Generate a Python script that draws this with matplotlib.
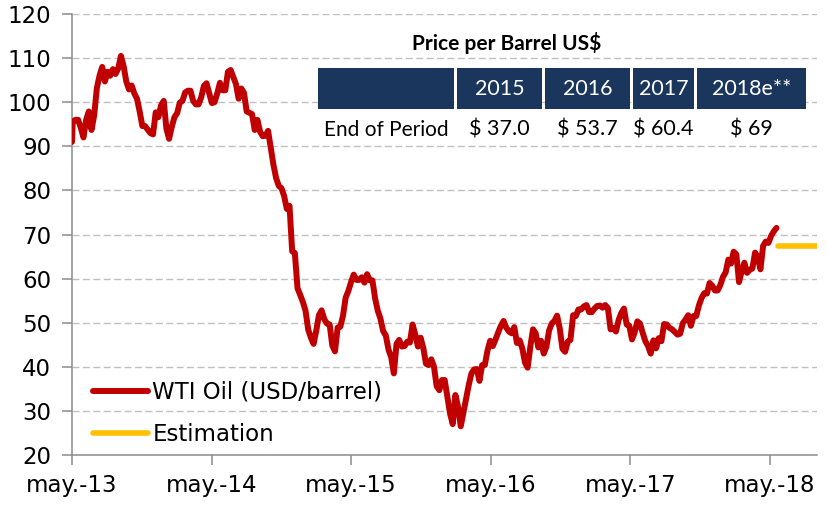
import pandas as pd
import matplotlib.pyplot as plt
import matplotlib.dates as mdates
from matplotlib.patches import Rectangle

# WTI settimanale (venerdi)
start_date = "2013-05-01"
start_value = 91.0
wti = [
    # 2013
    95.6, 96.0, 96.0, 94.2, 92.0,
    96.0, 97.9, 93.7, 97.0,
    103.2, 106.0, 108.0, 104.7,
    106.9, 106.0, 107.5, 106.4, 107.7,
    110.5, 108.2, 104.7, 102.9,
    103.8, 102.0, 100.8, 97.9,
    94.6, 94.6, 93.8, 93.0, 92.7,
    97.7, 96.6, 99.3, 100.3,
    # 2014
    94.0, 91.7, 94.4, 96.6, 97.5,
    99.9, 100.3, 102.2, 102.6,
    102.6, 100.3, 99.5, 99.5,
    101.1, 103.7, 104.3, 102.0,
    99.8, 100.0, 102.0, 104.4, 102.7,
    102.7, 106.9, 107.3, 105.7,
    104.1, 100.8, 103.1, 102.1,
    97.9, 97.6, 97.3, 93.7, 96.0,
    93.3, 92.3, 92.4, 93.5,
    89.7, 85.8, 82.8, 81.0, 80.5,
    78.7, 75.8, 76.5, 66.2,
    65.8, 57.8, 56.3, 54.7,
    # 2015
    52.7, 48.4, 46.6, 45.2, 48.2,
    51.7, 52.8, 50.8, 49.8,
    49.6, 44.8, 43.5, 48.9,
    49.1, 51.6, 55.7, 57.2,
    59.2, 60.9, 59.7, 59.7, 60.3,
    59.1, 61.0, 59.6, 59.6,
    55.5, 52.7, 50.9, 48.1, 47.1,
    43.9, 42.2, 38.5, 45.2,
    46.1, 44.6, 44.7, 45.7,
    45.5, 49.6, 47.3, 44.6, 46.6,
    44.3, 40.7, 40.4, 41.7,
    40.0, 35.6, 34.7, 37.0,
    # 2016
    37.0, 33.2, 29.4, 27.0, 33.6,
    30.9, 26.5, 29.6, 32.8,
    35.9, 38.5, 39.4, 39.5,
    36.8, 40.4, 40.4, 43.7, 45.9,
    44.7, 46.2, 47.8, 49.3,
    50.4, 48.9, 48.0, 47.6,
    49.0, 45.4, 46.0, 44.2, 41.0,
    39.8, 44.5, 48.5, 47.6,
    44.4, 45.9, 43.0, 44.5, 48.2,
    49.8, 50.4, 51.6, 48.7,
    44.1, 43.4, 45.7, 46.1,
    51.7, 51.5, 53.0, 53.0, 53.7,
    # 2017
    54.0, 52.4, 52.4, 53.2,
    53.8, 53.9, 53.4, 54.0,
    53.3, 48.5, 48.8, 48.0, 50.6,
    52.2, 53.2, 49.6, 49.3,
    46.2, 47.8, 50.3, 49.8,
    47.7, 45.8, 44.7, 43.0, 46.0,
    44.2, 46.5, 45.8, 49.7,
    49.6, 48.8, 48.5, 47.9,
    47.3, 47.5, 49.9, 50.7, 51.7,
    49.3, 51.5, 51.5, 53.9,
    55.6, 56.7, 56.6, 59.0,
    58.4, 57.3, 57.3, 58.5, 60.4,
    # 2018
    61.4, 64.3, 63.4, 66.1,
    65.5, 59.2, 61.7, 63.6,
    61.3, 62.0, 62.3, 65.9, 64.9,
    62.1, 67.4, 68.4, 68.1,
    69.7, 70.7, 71.5,
]

est_start = "2018-05-22"
est_end = "2018-09-01"
est_value = 67.5

tick_dates = ["2013-05-01", "2014-05-01", "2015-05-01", "2016-05-01", "2017-05-01", "2018-05-01"]
tick_labels = ["may.-13", "may.-14", "may.-15", "may.-16", "may.-17", "may.-18"]

# Tabella prezzi
table_title = "Price per Barrel US$"
table_years = ["2015", "2016", "2017", "2018e**"]
table_row_label = "End of Period"
table_prices = ["$ 37.0", "$ 53.7", "$ 60.4", "$ 69"]

dates = [pd.Timestamp(start_date)] + list(pd.date_range("2013-05-03", periods=len(wti), freq="W-FRI"))
values = [start_value] + wti

plt.rcParams['font.family'] = ['DejaVu Sans']
fig = plt.figure(figsize=(8.27, 5.05), dpi=100)
ax = fig.add_axes([72/827, 1 - 455/505, 745/827, 441/505])

ax.plot(dates, values, color="#c00000", lw=4.3, solid_capstyle="round",
        solid_joinstyle="round", label="WTI Oil (USD/barrel)", zorder=3)
ax.plot([pd.Timestamp(est_start), pd.Timestamp(est_end)], [est_value, est_value],
        color="#ffc000", lw=4.0, solid_capstyle="round", label="Estimation", zorder=3)

ax.set_ylim(20, 120)
ax.set_yticks(range(20, 121, 10))
ax.set_xlim(pd.Timestamp(start_date), pd.Timestamp(est_end))
ax.set_xticks([mdates.date2num(pd.Timestamp(d)) for d in tick_dates])
ax.set_xticklabels(tick_labels)

ax.yaxis.grid(True, color="#c0c0c0", lw=1.0, linestyle=(0, (5, 2.5)))
ax.set_axisbelow(True)
for s in ["top", "right"]:
    ax.spines[s].set_visible(False)
for s in ["left", "bottom"]:
    ax.spines[s].set_color("#8c8c8c")
    ax.spines[s].set_linewidth(1.1)
ax.tick_params(axis="both", direction="out", length=7, width=1.1, color="#8c8c8c",
               labelsize=16.5, labelcolor="black")
ax.tick_params(axis="y", pad=8)
ax.tick_params(axis="x", pad=7)

ax.legend(loc="lower left", bbox_to_anchor=(0.028, 0.02), frameon=False,
          fontsize=16.5, handlelength=2.4, handletextpad=0.2, labelspacing=0.85,
          borderpad=0, borderaxespad=0)

# Tabella disegnata in coordinate pixel della figura
def fx(x):
    return x / 827

def fy(y):
    return 1 - y / 505

col_edges = [(318, 454), (457, 542), (545, 630), (633, 694), (697, 806)]
navy = "#1a365d"
for x0, x1 in col_edges:
    fig.patches.append(Rectangle((fx(x0), fy(109)), fx(x1) - fx(x0), fy(68) - fy(109),
                                 transform=fig.transFigure, facecolor=navy, edgecolor="none", zorder=5))

fig.text(fx(507), fy(43), table_title, ha="center", va="center", fontsize=15,
         fontweight="bold", family="Lato", zorder=6)
for (x0, x1), yr in zip(col_edges[1:], table_years):
    fig.text(fx((x0 + x1) / 2), fy(89), yr, ha="center", va="center", fontsize=15.5,
             color="white", family="Lato", zorder=6)
fig.text(fx(386), fy(130), table_row_label, ha="center", va="center", fontsize=15,
         family="Lato", zorder=6)
for (x0, x1), p in zip(col_edges[1:], table_prices):
    fig.text(fx((x0 + x1) / 2), fy(130), p, ha="center", va="center", fontsize=15.5,
             family="Lato", zorder=6)

plt.savefig("out.png", dpi=100)
